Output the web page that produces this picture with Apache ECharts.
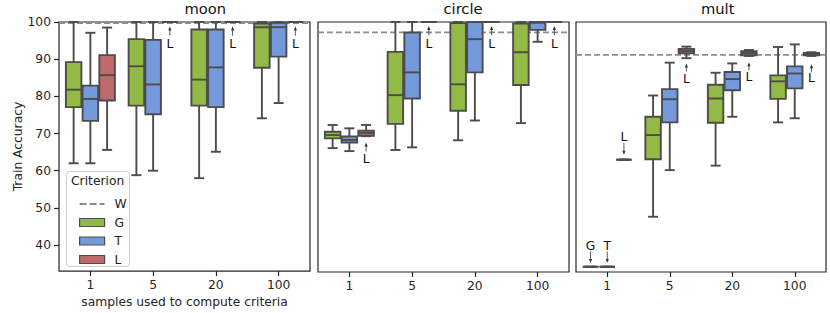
<!DOCTYPE html>
<html><head><meta charset="utf-8">
<script src="https://cdn.jsdelivr.net/npm/echarts@6/dist/echarts.min.js"></script>
<style>html,body{margin:0;padding:0;background:#fff}#c{width:830px;height:313px}</style>
</head><body><div id="c"></div><script>
// ---------- data ----------
const categories = ['1', '5', '20', '100'];
const panelNames = ['moon', 'circle', 'mult'];
const yTicks = [40, 50, 60, 70, 80, 90, 100];
const criteria = ['G', 'T', 'L'];
// each row: [min, q1, median, q3, max] per category
const moonG = [[62.0, 77.1, 81.8, 89.2, 100], [58.8, 77.5, 88.1, 95.4, 100], [58.0, 77.5, 84.5, 98.0, 100], [74.1, 87.7, 98.6, 99.6, 100]];
const moonT = [[62.0, 73.4, 79.3, 82.9, 97.1], [60.0, 75.2, 83.2, 95.2, 100], [65.1, 77.1, 87.8, 98.0, 100], [78.2, 90.7, 98.6, 99.8, 100]];
const moonL = [[65.6, 78.9, 85.7, 91.1, 98.5], [100, 100, 100, 100, 100], [100, 100, 100, 100, 100], [100, 100, 100, 100, 100]];
const circleG = [[66.2, 68.8, 69.7, 70.6, 72.4], [65.7, 72.7, 80.4, 92.0, 100], [68.3, 76.2, 83.3, 99.7, 100], [72.9, 83.1, 91.9, 99.6, 100]];
const circleT = [[65.4, 67.7, 68.4, 69.3, 71.5], [66.4, 79.5, 86.5, 97.2, 100], [73.6, 86.5, 95.4, 100, 100], [94.7, 97.9, 99.8, 100, 100]];
const circleL = [[69.4, 69.5, 70.3, 70.9, 72.4], [100, 100, 100, 100, 100], [100, 100, 100, 100, 100], [100, 100, 100, 100, 100]];
const multG = [[34.4, 34.4, 34.4, 34.4, 34.4], [47.8, 63.2, 69.7, 74.6, 80.3], [61.5, 73.0, 79.5, 83.2, 86.4], [73.1, 79.4, 84.1, 85.7, 93.3]];
const multT = [[34.4, 34.4, 34.4, 34.4, 34.4], [60.3, 73.1, 79.3, 82.0, 89.1], [74.6, 81.7, 84.7, 86.6, 88.9], [74.2, 82.2, 86.2, 88.1, 94.0]];
const multL = [[63.1, 63.1, 63.1, 63.1, 63.1], [90.3, 91.6, 92.2, 92.8, 93.4], [90.9, 91.1, 91.7, 92.2, 92.5], [90.9, 91.1, 91.4, 91.7, 91.9]];
const wLevels = [99.7, 97.2, 91.2];
// annotations: [category index, criterion index, arrow tip, arrow tail, text y, text]
const moonNotes = [[1, 2, 98.8, 96.3, 94.1, 'L'], [2, 2, 98.8, 96.3, 94.1, 'L'], [3, 2, 98.8, 96.3, 94.1, 'L']];
const circleNotes = [[0, 2, 67.7, 65.3, 63.2, 'L'], [1, 2, 98.9, 96.4, 94.2, 'L'], [2, 2, 98.9, 96.4, 94.2, 'L'], [3, 2, 98.9, 96.4, 94.2, 'L']];
const multNotes = [[0, 2, 64.4, 67.6, 69.3, 'L'], [1, 2, 88.9, 86.7, 84.6, 'L'], [2, 2, 89.2, 87.0, 85.3, 'L'], [3, 2, 88.7, 86.5, 85.0, 'L'], [0, 0, 35.4, 38.5, 39.9, 'G'], [0, 1, 35.4, 38.5, 39.9, 'T']];

const panelData = [[moonG, moonT, moonL], [circleG, circleT, circleL], [multG, multT, multL]];
const panelNotes = [moonNotes, circleNotes, multNotes];

// ---------- style ----------
const FONT = 'DejaVu Sans';
const INK = '#262626';
const EDGE = '#4c4c4c';
const COLORS = { G: '#93ba45', T: '#759adc', L: '#bf6a6a' };
const WCOL = '#8c8c8c';
const grids = [
  { left: 59, top: 22, width: 251, height: 250 },
  { left: 318, top: 22, width: 251, height: 250 },
  { left: 576, top: 22, width: 250, height: 250 }
];

function boxRenderer(k, fill) {
  return function (params, api) {
    const cat = api.value(0);
    const band = api.size([1, 0])[0];
    const bw = band * 0.8 / 3;
    const cx = api.coord([cat, 50])[0] + (k - 1) * bw;
    const y = i => api.coord([cat, api.value(i)])[1];
    const yMin = y(1), yQ1 = y(2), yMed = y(3), yQ3 = y(4), yMax = y(5);
    const half = bw / 2 - 0.6;
    const cap = bw * 0.3;
    const ls = { stroke: EDGE, lineWidth: 1.9 };
    return {
      type: 'group', children: [
        { type: 'line', shape: { x1: cx, y1: yQ3, x2: cx, y2: yMax }, style: ls },
        { type: 'line', shape: { x1: cx, y1: yQ1, x2: cx, y2: yMin }, style: ls },
        { type: 'line', shape: { x1: cx - cap, y1: yMax, x2: cx + cap, y2: yMax }, style: ls },
        { type: 'line', shape: { x1: cx - cap, y1: yMin, x2: cx + cap, y2: yMin }, style: ls },
        { type: 'rect', shape: { x: cx - half, y: yQ3, width: 2 * half, height: yQ1 - yQ3 }, style: { fill: fill, stroke: EDGE, lineWidth: 1.9 } },
        { type: 'line', shape: { x1: cx - half, y1: yMed, x2: cx + half, y2: yMed }, style: ls }
      ]
    };
  };
}

function noteRenderer(params, api) {
  const cat = api.value(0);
  const k = api.value(1);
  const band = api.size([1, 0])[0];
  const bw = band * 0.8 / 3;
  const cx = api.coord([cat, 50])[0] + (k - 1) * bw;
  const yTip = api.coord([cat, api.value(2)])[1];
  const yTail = api.coord([cat, api.value(3)])[1];
  const yText = api.coord([cat, api.value(4)])[1];
  const dir = yTip > yTail ? 1 : -1;
  return {
    type: 'group', children: [
      { type: 'line', shape: { x1: cx, y1: yTail, x2: cx, y2: yTip - dir * 2 }, style: { stroke: '#333333', lineWidth: 0.8 } },
      { type: 'polygon', shape: { points: [[cx, yTip], [cx - 1.6, yTip - dir * 4], [cx + 1.6, yTip - dir * 4]] }, style: { fill: '#333333' } },
      { type: 'text', style: { text: api.value(5), x: cx, y: yText, align: 'center', verticalAlign: 'middle', fontSize: 12.3, fontFamily: FONT, fill: '#111111' } }
    ]
  };
}

function wRenderer(params, api) {
  const cs = params.coordSys;
  const yy = api.coord([0, api.value(1)])[1];
  return { type: 'line', shape: { x1: cs.x, y1: yy, x2: cs.x + cs.width, y2: yy }, style: { stroke: WCOL, lineWidth: 1.8, lineDash: [6, 3] } };
}

const xAxes = grids.map((g, i) => ({
  type: 'category', gridIndex: i, data: categories, boundaryGap: true,
  axisLine: { show: false },
  axisTick: { show: true, alignWithLabel: true, length: 5, lineStyle: { color: INK, width: 1.2 } },
  axisLabel: { fontSize: 12.3, fontFamily: FONT, color: INK, margin: 8, interval: 0 },
  splitLine: { show: false },
  name: i === 0 ? 'samples used to compute criteria' : '',
  nameLocation: 'middle', nameGap: 24,
  nameTextStyle: { fontSize: 12.3, fontFamily: FONT, color: INK }
}));
const yAxes = grids.map((g, i) => ({
  type: 'value', gridIndex: i, min: 33, max: 100,
  axisLine: { show: false },
  axisTick: i === 0 ? { show: true, customValues: yTicks, length: 5, lineStyle: { color: INK, width: 1.2 } } : { show: false },
  axisLabel: i === 0 ? { show: true, customValues: yTicks, fontSize: 12.3, fontFamily: FONT, color: INK, margin: 8 } : { show: false },
  splitLine: { show: false },
  name: i === 0 ? 'Train Accuracy' : '',
  nameLocation: 'middle', nameGap: 35,
  nameTextStyle: { fontSize: 12.3, fontFamily: FONT, color: INK }
}));

const series = [];
grids.forEach((g, i) => {
  series.push({
    type: 'custom', name: 'W', xAxisIndex: i, yAxisIndex: i,
    itemStyle: { color: WCOL }, renderItem: wRenderer, data: [[0, wLevels[i]]], z: 1
  });
  criteria.forEach((c, k) => {
    series.push({
      type: 'custom', name: c, xAxisIndex: i, yAxisIndex: i,
      itemStyle: { color: COLORS[c] },
      renderItem: boxRenderer(k, COLORS[c]),
      encode: { x: 0, y: [1, 2, 3, 4, 5] },
      data: panelData[i][k].map((r, ci) => [ci].concat(r)), z: 2
    });
  });
  series.push({
    type: 'custom', name: 'notes' + i, xAxisIndex: i, yAxisIndex: i,
    itemStyle: { color: '#111111' },
    renderItem: noteRenderer, encode: { x: 0, y: [2, 3, 4] },
    data: panelNotes[i], z: 3
  });
});

const graphic = panelNames.map((t, i) => ({
  type: 'text', left: grids[i].left + grids[i].width / 2, top: 1,
  style: { text: t, fontSize: 14.7, fontFamily: FONT, fill: '#111111', align: 'center' }
}));
graphic.push({
  type: 'rect', left: 66, top: 171, z: 3,
  shape: { width: 63, height: 95, r: 3 },
  style: { fill: 'rgba(255,255,255,0.85)', stroke: '#cccccc', lineWidth: 1 }
});
graphic.push({
  type: 'text', left: 71, top: 175, z: 4,
  style: { text: 'Criterion', fontSize: 12.3, fontFamily: FONT, fill: INK }
});

const option = {
  animation: false,
  backgroundColor: '#ffffff',
  grid: grids.map(g => Object.assign({ show: true, borderColor: INK, borderWidth: 1.2, backgroundColor: 'transparent' }, g)),
  xAxis: xAxes,
  yAxis: yAxes,
  legend: {
    orient: 'vertical', left: 74, top: 192, itemWidth: 25, itemHeight: 8, itemGap: 4.5, z: 5,
    selectedMode: false,
    textStyle: { fontSize: 12.3, fontFamily: FONT, color: INK, lineHeight: 14, padding: [0, 0, 0, 5] },
    data: [
      { name: 'W', icon: 'path://M0,0h7v2h-7zM10,0h7v2h-7zM20,0h5v2h-5z', itemStyle: { color: WCOL } },
      { name: 'G', icon: 'rect', itemStyle: { color: COLORS.G, borderColor: EDGE, borderWidth: 1.2 } },
      { name: 'T', icon: 'rect', itemStyle: { color: COLORS.T, borderColor: EDGE, borderWidth: 1.2 } },
      { name: 'L', icon: 'rect', itemStyle: { color: COLORS.L, borderColor: EDGE, borderWidth: 1.2 } }
    ]
  },
  graphic: graphic,
  series: series
};
const chart = echarts.init(document.getElementById('c'), null, { renderer: 'svg' });
chart.setOption(option);
</script></body></html>
